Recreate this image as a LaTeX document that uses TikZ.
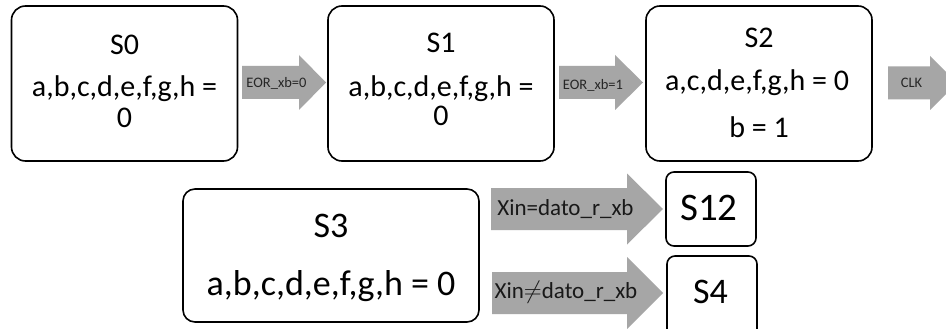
\documentclass[tikz,border=0pt]{standalone}
\usepackage{fontspec}
\setmainfont{Carlito}
\usetikzlibrary{calc}
\definecolor{arrgray}{RGB}{166,166,166}
\tikzset{
  statebox/.style={draw=black, line width=1.6pt, fill=white, inner sep=0pt},
  bigbox/.style={statebox, rounded corners=14pt, minimum width=226pt, minimum height=155pt},
  txt/.style={anchor=base, inner sep=0pt, text=black},
  topfont/.style={font=\fontsize{30}{36}\selectfont},
  lblsmall/.style={txt, font=\fontsize{14.5}{17}\selectfont, text=black!85},
  lblbig/.style={txt, font=\fontsize{23}{27}\selectfont, text=black!90},
  arrfill/.style={fill=arrgray, draw=none}
}
% #1 start x, #2 body end x, #3 tip x, #4 centre y, #5 body half height, #6 head half height
\newcommand{\blockarr}[6]{%
  \fill[arrfill] (#1,#4-#5) -- (#2,#4-#5) -- (#2,#4-#6) -- (#3,#4)
    -- (#2,#4+#6) -- (#2,#4+#5) -- (#1,#4+#5) -- cycle;}
\begin{document}
\begin{tikzpicture}[x=1pt,y=-1pt]
\useasboundingbox (0,0) rectangle (946,329);
\clip (0,0) rectangle (946,329);
\fill[white] (0,0) rectangle (946,329);

% top row boxes
\node[bigbox] (s0) at (124.5,83.5) {};
\node[bigbox] (s1) at (441,83.5) {};
\node[bigbox] (s2) at (759,83.5) {};

\node[txt, topfont] (s0t) at (124.5,55) {S0};
\node[txt, topfont] (s0l) at (124.5,97) {a,b,c,d,e,f,g,h =};
\node[txt, topfont] (s0z) at (124.5,128) {0};

\node[txt, topfont] (s1t) at (441,53) {S1};
\node[txt, topfont] (s1l) at (441,97) {a,b,c,d,e,f,g,h =};
\node[txt, topfont] (s1z) at (441,125) {0};

\node[txt, topfont] (s2t) at (759,48) {S2};
\node[txt, topfont] (s2l) at (757,91) {a,c,d,e,f,g,h = 0};
\node[txt, topfont] (s2b) at (759,137) {b = 1};

% top row arrows
\blockarr{242}{299}{326}{82.5}{16.5}{27.5}
\node[lblsmall] (a1) at (276.5,88) {EOR\_xb=0};
\blockarr{559}{615}{643}{82.5}{16.5}{27.5}
\node[lblsmall] (a2) at (593,89) {EOR\_xb=1};
\blockarr{888}{930}{957}{83}{16.5}{27}
\node[lblsmall] (a3) at (911.5,88) {CLK};

% S3
\node[statebox, rounded corners=12pt, minimum width=296pt, minimum height=133pt] (s3) at (331,255.5) {};
\node[txt, font=\fontsize{36}{42}\selectfont] (s3t) at (331,237) {S3};
\node[txt, font=\fontsize{36}{42}\selectfont] (s3l) at (331,295) {a,b,c,d,e,f,g,h = 0};

% bottom arrows
\blockarr{491}{627}{663}{209}{21}{35.5}
\node[lblbig] (a4) at (565.5,215) {Xin=dato\_r\_xb};
\blockarr{492}{627}{663}{293}{21}{36}
\node[lblbig] (a5) at (566,298) {Xin$\neq$dato\_r\_xb};

% S12 and S4
\node[statebox, rounded corners=8pt, minimum width=90pt, minimum height=74pt] (s12) at (711,209) {};
\node[txt, font=\fontsize{39}{45}\selectfont] (s12t) at (709,220) {S12};
\node[statebox, rounded corners=8pt, minimum width=90pt, minimum height=84pt] (s4) at (712,298) {};
\node[txt, font=\fontsize{36}{42}\selectfont] (s4t) at (710.5,303) {S4};
\end{tikzpicture}
\end{document}
